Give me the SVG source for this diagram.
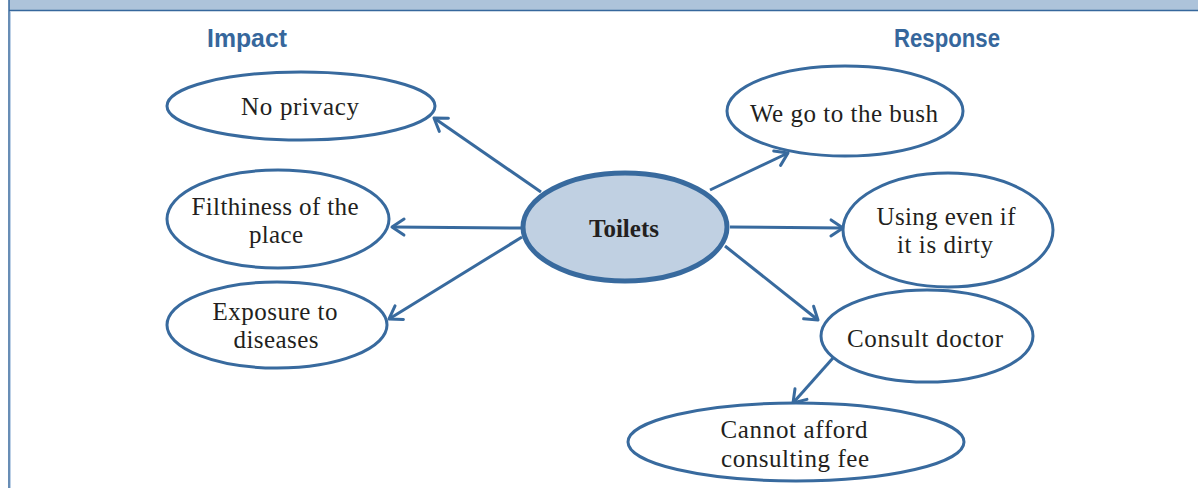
<svg xmlns="http://www.w3.org/2000/svg" width="1198" height="488" viewBox="0 0 1198 488">
<style>
.node{fill:#ffffff;stroke:#386a9e;stroke-width:3}
.hub{fill:#c0d0e2;stroke:#386a9e;stroke-width:5}
.lbl{font-family:"Liberation Serif",serif;font-size:25px;fill:#231f20;text-anchor:middle}
.hubl{font-family:"Liberation Serif",serif;font-size:25px;font-weight:bold;fill:#231f20;text-anchor:middle}
.head{font-family:"Liberation Sans",sans-serif;font-size:25px;font-weight:bold;fill:#36679c;text-anchor:middle}
.conn line{stroke:#386a9e;stroke-width:3;fill:none}
</style>
<defs>
<marker id="arr" markerUnits="userSpaceOnUse" markerWidth="30" markerHeight="30" viewBox="-15 -15 30 30" refX="0" refY="0" orient="auto">
<path d="M -12 -8 L 0 0 L -12 8" fill="none" stroke="#386a9e" stroke-width="3" stroke-linecap="round" stroke-linejoin="round"/>
</marker>
</defs>
<rect x="0" y="0" width="1198" height="488" fill="#ffffff"/>
<g id="frame">
<rect x="9" y="0" width="1189" height="10" fill="#adc3da"/>
<line x1="9" y1="10.5" x2="1198" y2="10.5" stroke="#36679c" stroke-width="1.5"/>
<line x1="9" y1="0" x2="9" y2="488" stroke="#36679c" stroke-width="1.5"/>
<line x1="10.5" y1="11" x2="10.5" y2="488" stroke="#bcd0e6" stroke-width="1"/>
</g>
<g id="headings">
<text class="head" x="247" y="47" textLength="80" lengthAdjust="spacingAndGlyphs">Impact</text>
<text class="head" x="947" y="47" textLength="106" lengthAdjust="spacingAndGlyphs">Response</text>
</g>
<g id="connectors" class="conn">
<line x1="541" y1="192" x2="434" y2="118" marker-end="url(#arr)"/>
<line x1="521" y1="228" x2="392" y2="227" marker-end="url(#arr)"/>
<line x1="522" y1="237" x2="389" y2="319" marker-end="url(#arr)"/>
<line x1="710" y1="190" x2="788" y2="153" marker-end="url(#arr)"/>
<line x1="730" y1="227" x2="843" y2="228" marker-end="url(#arr)"/>
<line x1="725" y1="246" x2="818" y2="320" marker-end="url(#arr)"/>
<line x1="833" y1="358" x2="793" y2="403" marker-end="url(#arr)"/>
</g>
<g id="node-toilets">
<ellipse class="hub" cx="625" cy="227" rx="102" ry="54"/>
<text class="hubl" x="624" y="237">Toilets</text>
</g>
<g id="node-no-privacy">
<ellipse class="node" cx="301" cy="106" rx="134" ry="34"/>
<text class="lbl" x="300" y="115" textLength="118" lengthAdjust="spacing">No privacy</text>
</g>
<g id="node-filthiness">
<ellipse class="node" cx="278" cy="219" rx="111" ry="49"/>
<text class="lbl" x="275" y="215" textLength="167" lengthAdjust="spacing">Filthiness of the</text>
<text class="lbl" x="276" y="243" textLength="54" lengthAdjust="spacing">place</text>
</g>
<g id="node-exposure">
<ellipse class="node" cx="277" cy="325" rx="110" ry="43"/>
<text class="lbl" x="275" y="320" textLength="125" lengthAdjust="spacing">Exposure to</text>
<text class="lbl" x="276" y="348" textLength="85" lengthAdjust="spacing">diseases</text>
</g>
<g id="node-bush">
<ellipse class="node" cx="845" cy="111" rx="118" ry="45"/>
<text class="lbl" x="844" y="122" textLength="188" lengthAdjust="spacing">We go to the bush</text>
</g>
<g id="node-using">
<ellipse class="node" cx="948" cy="230" rx="105" ry="57"/>
<text class="lbl" x="946" y="225" textLength="139" lengthAdjust="spacing">Using even if</text>
<text class="lbl" x="945" y="253" textLength="96" lengthAdjust="spacing">it is dirty</text>
</g>
<g id="node-consult">
<ellipse class="node" cx="927" cy="336" rx="106" ry="46"/>
<text class="lbl" x="925" y="347" textLength="156" lengthAdjust="spacing">Consult doctor</text>
</g>
<g id="node-cannot">
<ellipse class="node" cx="796" cy="442" rx="168" ry="39"/>
<text class="lbl" x="794" y="438" textLength="147" lengthAdjust="spacing">Cannot afford</text>
<text class="lbl" x="795" y="467" textLength="148" lengthAdjust="spacing">consulting fee</text>
</g>
</svg>
